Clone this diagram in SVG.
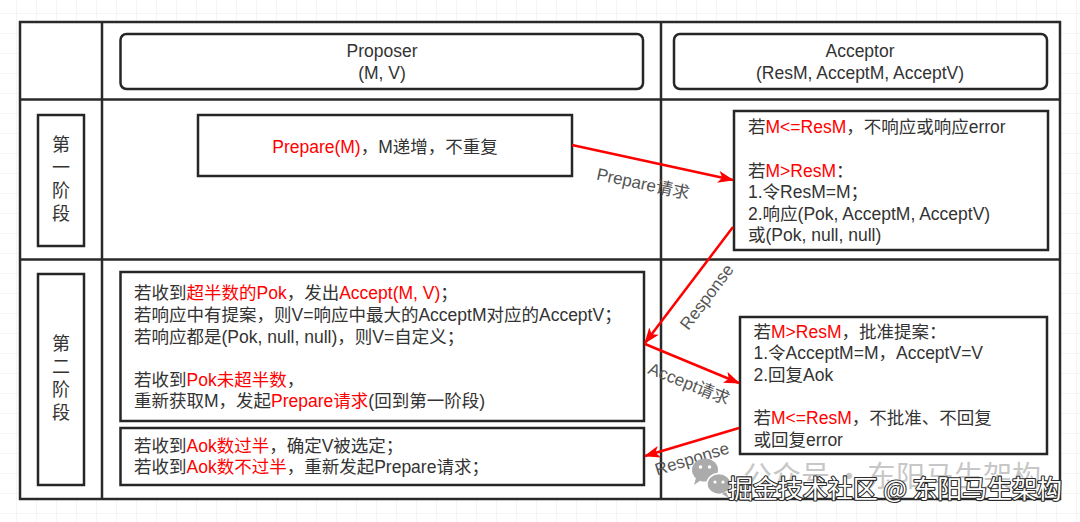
<svg xmlns="http://www.w3.org/2000/svg" width="1080" height="522" viewBox="0 0 1080 522">
<style>
.t{font-family:"Liberation Sans","Noto Sans CJK SC",sans-serif;font-size:17.5px;fill:#333}
.r{fill:#f00}
.c{text-anchor:middle}
.ph{font-family:"Noto Sans CJK SC",sans-serif;font-size:18px;fill:#333;text-anchor:middle}
.box{fill:#fff;stroke:#262626;stroke-width:2.5}
.grid{fill:none;stroke:#2a2a2a;stroke-width:2.5}
.lbl{font-family:"Liberation Sans","Noto Sans CJK SC",sans-serif;font-size:17px;fill:#555;text-anchor:middle;dominant-baseline:central}
.arr{fill:none;stroke:#f00;stroke-width:2.5;marker-end:url(#ah)}
.wm1{font-family:"Noto Sans CJK SC",sans-serif;font-size:29px;fill:#bdbdbd;fill-opacity:0.85}
.wm2{font-family:"Noto Sans CJK SC",sans-serif;font-size:24.5px;fill:#fff;stroke:#2b2b2b;stroke-width:2.2;paint-order:stroke;stroke-linejoin:round}
</style>
<defs>
<pattern id="bg" x="16" y="13" width="20" height="20" patternUnits="userSpaceOnUse">
<path d="M0,0 H20 M0,0 V20" stroke="#ececec" stroke-width="1" fill="none"/>
</pattern>
<marker id="ah" viewBox="0 0 16 12" refX="15" refY="6" markerWidth="16" markerHeight="12" orient="auto" markerUnits="userSpaceOnUse">
<path d="M0,0 L16,6 L0,12 L4,6 Z" fill="#f00"/>
</marker>
</defs>
<rect width="1080" height="522" fill="#fff"/>
<rect width="1080" height="522" fill="url(#bg)"/>

<g id="table">
<rect x="20" y="22" width="1040" height="477" fill="#fff" stroke="#2a2a2a" stroke-width="2.5"/>
<path class="grid" d="M102,22 V499 M661,22 V499 M20,99.5 H1060 M20,259.5 H1060"/>
</g>

<g id="proposer-header">
<rect class="box" x="120.5" y="34" width="522.5" height="55" rx="6"/>
<text class="t c" x="382" y="57">Proposer</text>
<text class="t c" x="382" y="79">(M, V)</text>
</g>

<g id="acceptor-header">
<rect class="box" x="674" y="34" width="373" height="55" rx="6"/>
<text class="t c" x="860" y="57">Acceptor</text>
<text class="t c" x="860" y="79">(ResM, AcceptM, AcceptV)</text>
</g>

<g id="phase1-label">
<rect class="box" x="38" y="115" width="46" height="131"/>
<text class="ph" x="61" y="151">第</text>
<text class="ph" x="61" y="174">一</text>
<text class="ph" x="61" y="197">阶</text>
<text class="ph" x="61" y="220">段</text>
</g>

<g id="phase2-label">
<rect class="box" x="38" y="274" width="46" height="211"/>
<text class="ph" x="61" y="350">第</text>
<text class="ph" x="61" y="373">二</text>
<text class="ph" x="61" y="396">阶</text>
<text class="ph" x="61" y="419">段</text>
</g>

<g id="prepare-box">
<rect class="box" x="198" y="115" width="374" height="61"/>
<text class="t c" x="385" y="153"><tspan class="r">Prepare(M)</tspan>，M递增，不重复</text>
</g>

<g id="acceptor-phase1">
<rect class="box" x="734" y="111" width="314" height="139"/>
<text class="t" x="748" y="133">若<tspan class="r">M&lt;=ResM</tspan>，不响应或响应error</text>
<text class="t" x="748" y="176.5">若<tspan class="r">M&gt;ResM</tspan>：</text>
<text class="t" x="748" y="198">1.令ResM=M；</text>
<text class="t" x="748" y="219.5">2.响应(Pok, AcceptM, AcceptV)</text>
<text class="t" x="748" y="241">或(Pok, null, null)</text>
</g>

<g id="proposer-phase2-accept">
<rect class="box" x="120.5" y="272" width="523.5" height="149"/>
<text class="t" x="134" y="299">若收到<tspan class="r">超半数的Pok</tspan>，发出<tspan class="r">Accept(M, V)</tspan>；</text>
<text class="t" x="134" y="320.5">若响应中有提案，则V=响应中最大的AcceptM对应的AcceptV；</text>
<text class="t" x="134" y="342.5">若响应都是(Pok, null, null)，则V=自定义；</text>
<text class="t" x="134" y="385.5">若收到<tspan class="r">Pok未超半数</tspan>，</text>
<text class="t" x="134" y="407">重新获取M，发起<tspan class="r">Prepare请求</tspan>(回到第一阶段)</text>
</g>

<g id="proposer-phase2-result">
<rect class="box" x="120.5" y="428" width="523.5" height="57"/>
<text class="t" x="134" y="451.5">若收到<tspan class="r">Aok数过半</tspan>，确定V被选定；</text>
<text class="t" x="134" y="473">若收到<tspan class="r">Aok数不过半</tspan>，重新发起Prepare请求；</text>
</g>

<g id="acceptor-phase2">
<rect class="box" x="740" y="317" width="307" height="137"/>
<text class="t" x="753.5" y="337.5">若<tspan class="r">M&gt;ResM</tspan>，批准提案：</text>
<text class="t" x="753.5" y="359">1.令AcceptM=M，AcceptV=V</text>
<text class="t" x="753.5" y="380.5">2.回复Aok</text>
<text class="t" x="753.5" y="424">若<tspan class="r">M&lt;=ResM</tspan>，不批准、不回复</text>
<text class="t" x="753.5" y="445.5">或回复error</text>
</g>

<g id="connectors">
<path class="arr" d="M572,145 L733,180"/>
<path class="arr" d="M733,227 L645,343"/>
<path class="arr" d="M645,344 L739,383"/>
<path class="arr" d="M739,428 L645,456"/>
<text class="lbl" transform="translate(643,184) rotate(12)">Prepare请求</text>
<text class="lbl" transform="translate(707,297) rotate(-53)">Response</text>
<text class="lbl" transform="translate(689,384) rotate(22)">Accept请求</text>
<text class="lbl" transform="translate(692,459) rotate(-17)">Response</text>
</g>

<g id="watermark">
<ellipse cx="705" cy="470" rx="13" ry="11.5" fill="#ababab"/>
<path d="M696,478 L694,485 L701,480 Z" fill="#ababab"/>
<circle cx="700.5" cy="467" r="1.8" fill="#fff"/>
<circle cx="709.5" cy="467" r="1.8" fill="#fff"/>
<ellipse cx="719" cy="484" rx="12" ry="10.5" fill="#ababab" stroke="#fff" stroke-width="1.5"/>
<path d="M726,492 L729,498 L722,494 Z" fill="#ababab"/>
<circle cx="715" cy="482" r="1.6" fill="#fff"/>
<circle cx="723" cy="482" r="1.6" fill="#fff"/>
<text class="wm1" x="743" y="487">公众号</text>
<text class="wm1" x="849" y="487" text-anchor="middle">·</text>
<text class="wm1" x="867" y="487">东阳马生架构</text>
<text class="wm2" x="728" y="498" textLength="334" lengthAdjust="spacingAndGlyphs">掘金技术社区 @ 东阳马生架构</text>
</g>
</svg>
